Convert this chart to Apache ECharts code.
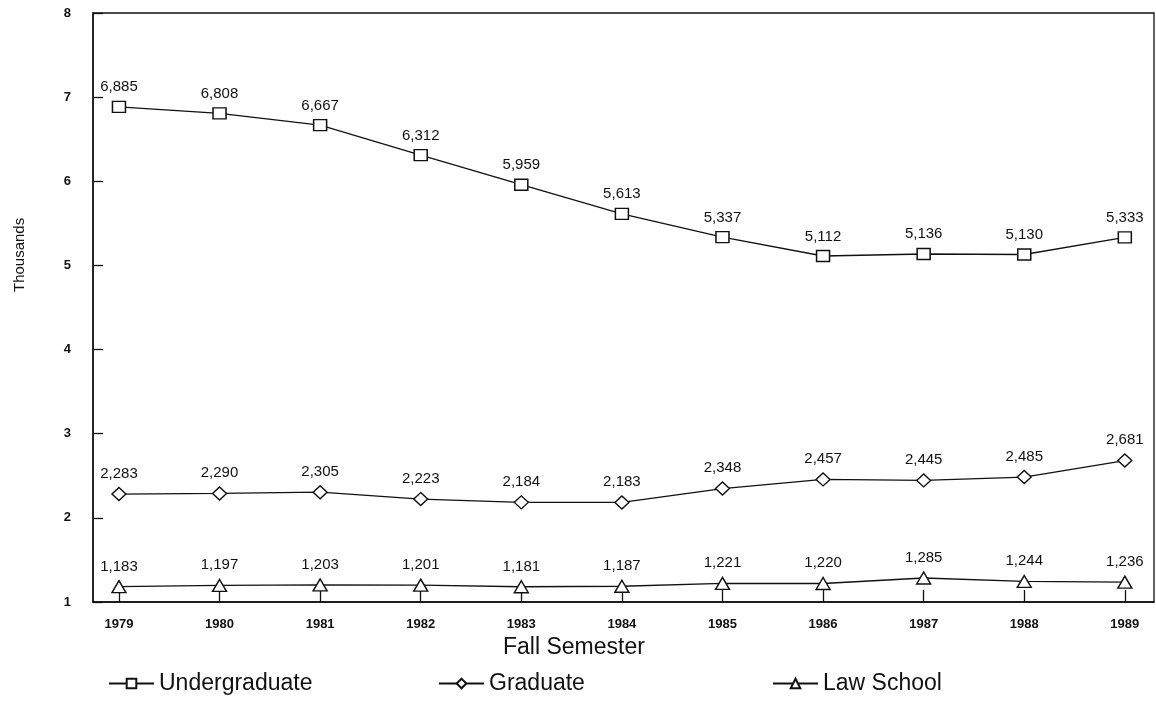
<!DOCTYPE html>
<html>
<head>
<meta charset="utf-8">
<script src="https://cdn.jsdelivr.net/npm/echarts@6/dist/echarts.min.js"></script>
<style>
  html, body { margin: 0; padding: 0; background: #fff; }
  #chart { width: 1156px; height: 706px; }
</style>
</head>
<body>
<div id="chart"></div>
<script>
// fall semester enrollment (head count)
const years = [1979, 1980, 1981, 1982, 1983, 1984, 1985, 1986, 1987, 1988, 1989];
const undergraduate = [6885, 6808, 6667, 6312, 5959, 5613, 5337, 5112, 5136, 5130, 5333];
const graduate = [2283, 2290, 2305, 2223, 2184, 2183, 2348, 2457, 2445, 2485, 2681];
const lawSchool = [1183, 1197, 1203, 1201, 1181, 1187, 1221, 1220, 1285, 1244, 1236];
const yTicks = [1, 2, 3, 4, 5, 6, 7, 8];

const chart = echarts.init(document.getElementById('chart'));

const font = 'Liberation Sans, Arial, sans-serif';

// values are plotted in thousands, labels show the raw count
function makeSeries(name, values, symbol, size) {
  return {
    name: name,
    type: 'line',
    data: years.map((y, i) => [y, values[i] / 1000]),
    symbol: symbol,
    symbolSize: size,
    lineStyle: { color: '#111', width: 1.3 },
    itemStyle: { color: '#fff', borderColor: '#111', borderWidth: 1.4 },
    label: {
      show: true,
      position: 'top',
      distance: 6,
      color: '#111',
      fontFamily: font,
      fontSize: 15,
      formatter: (p) => values[p.dataIndex].toLocaleString('en-US')
    },
    emphasis: { disabled: true },
    animation: false
  };
}

const legendBase = {
  bottom: 6,
  itemWidth: 45,
  itemHeight: 12,
  itemGap: 10,
  textStyle: { fontFamily: font, fontSize: 23, color: '#111' },
  inactiveColor: '#111'
};

chart.setOption({
  backgroundColor: '#fff',
  grid: {
    left: 93, right: 2, top: 13, bottom: 104,
    show: true, borderColor: '#111', borderWidth: 1.3
  },
  xAxis: {
    type: 'value',
    min: 1978.742,
    max: 1989.29,
    axisLine: { lineStyle: { color: '#111', width: 1.5 } },
    axisTick: {
      inside: true, length: 12,
      customValues: years,
      lineStyle: { color: '#111', width: 1.3 }
    },
    axisLabel: {
      customValues: years,
      margin: 16,
      color: '#111',
      fontFamily: font,
      fontWeight: 'bold',
      fontSize: 13,
      formatter: (v) => String(v)
    },
    splitLine: { show: false }
  },
  yAxis: {
    type: 'value',
    min: yTicks[0],
    max: yTicks[yTicks.length - 1],
    interval: 1,
    axisLine: { show: true, lineStyle: { color: '#111', width: 1.5 } },
    axisTick: { show: true, inside: true, length: 10, lineStyle: { color: '#111', width: 1.3 } },
    axisLabel: {
      margin: 22,
      color: '#111',
      fontFamily: font,
      fontWeight: 'bold',
      fontSize: 13
    },
    splitLine: { show: false }
  },
  legend: [
    Object.assign({}, legendBase, { left: 103, data: ['Undergraduate'] }),
    Object.assign({}, legendBase, { left: 433, data: ['Graduate'] }),
    Object.assign({}, legendBase, { left: 767, data: ['Law School'] })
  ],
  graphic: [
    {
      type: 'text',
      left: 503,
      top: 636,
      style: { text: 'Fall Semester', font: '23px ' + font, fill: '#111' }
    },
    {
      type: 'text',
      x: 12,
      y: 292,
      rotation: Math.PI / 2,
      style: { text: 'Thousands', font: '15px ' + font, fill: '#111' }
    }
  ],
  series: [
    makeSeries('Undergraduate', undergraduate, 'rect', [13, 11]),
    makeSeries('Graduate', graduate, 'diamond', [14, 13]),
    makeSeries('Law School', lawSchool, 'triangle', [14, 12])
  ]
});
</script>
</body>
</html>
